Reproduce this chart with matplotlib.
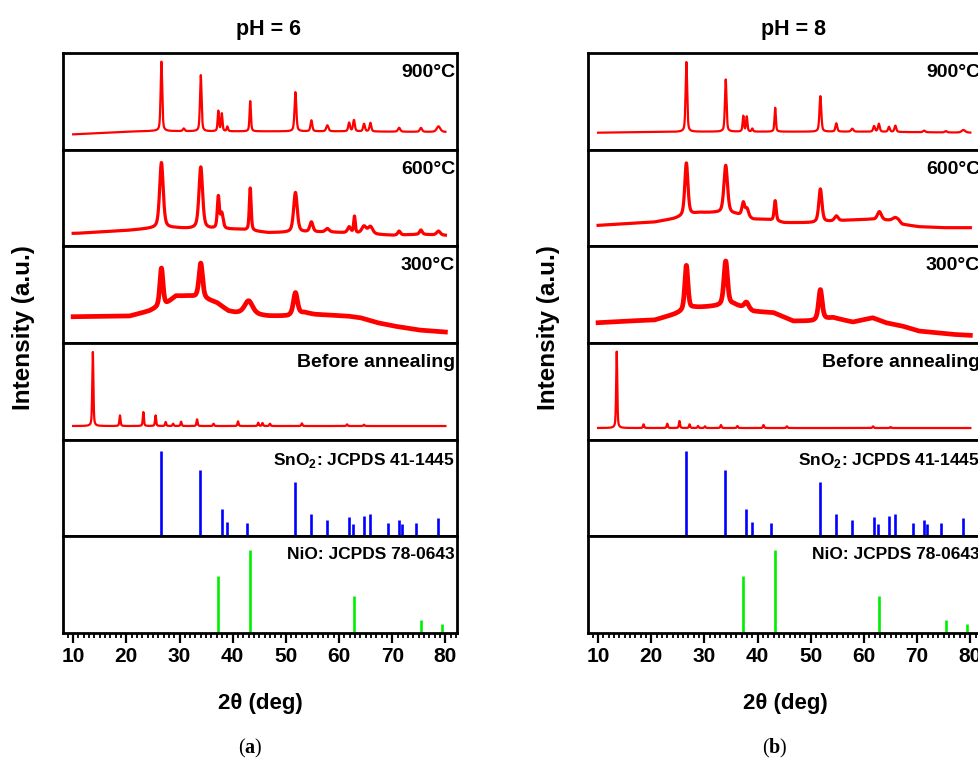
import numpy as np
import matplotlib
matplotlib.use("Agg")
import matplotlib.pyplot as plt
from matplotlib.ticker import MultipleLocator

plt.rcParams['font.family'] = ['Liberation Sans', 'DejaVu Sans']
plt.rcParams['font.weight'] = 'bold'
plt.rcParams['mathtext.fontset'] = 'custom'
plt.rcParams['mathtext.rm'] = 'Liberation Sans:bold'
plt.rcParams['mathtext.bf'] = 'Liberation Serif:bold'

# ---- data (intensities in a.u.) ----
ph_titles = ['pH = 6', 'pH = 8']
sub_labels = ['a', 'b']
trace_labels = ['900°C', '600°C', '300°C', 'Before annealing']

# reference sticks
sno2_pos = [26.6, 33.9, 37.9, 39.0, 42.6, 51.8, 54.8, 57.8, 61.9, 62.6,
            64.7, 65.9, 69.2, 71.3, 71.8, 74.5, 78.7]
sno2_int = [100, 78, 32, 17, 15, 63, 26, 19, 23, 14, 24, 26, 15, 19, 14, 15, 21]
nio_pos = [37.3, 43.3, 62.9, 75.4, 79.4]
nio_int = [68, 100, 44, 15, 11]

# pH = 6 traces: baseline points, then peaks (position, height, fwhm)
p6_900_bx = [10, 15, 20, 25, 35, 50, 60, 70, 80]
p6_900_by = [46, 50, 54, 56, 55, 55, 55, 54, 53]
p6_900_pos = [26.6, 30.8, 34.0, 37.3, 37.95, 39.0, 43.3, 51.8, 54.8, 57.8,
              61.9, 62.8, 64.7, 65.9, 71.3, 75.4, 78.7]
p6_900_h = [209, 8, 169, 61, 53, 14, 91, 118, 33, 18, 26, 34, 23, 26, 12, 12, 17]
p6_900_w = [0.35, 0.4, 0.35, 0.3, 0.3, 0.3, 0.3, 0.4, 0.4, 0.5,
            0.4, 0.4, 0.4, 0.4, 0.5, 0.5, 0.8]

p6_600_bx = [10.6, 20.4, 24.3, 29.3, 31.7, 41, 46.7, 57.9, 70.3, 75.2, 80]
p6_600_by = [39, 48, 53, 55, 53, 51, 41, 43, 33, 36, 33]
p6_600_pos = [26.6, 34.0, 37.3, 37.95, 43.3, 51.8, 54.8, 57.8, 61.9, 62.9,
              64.7, 65.9, 71.3, 75.4, 78.7]
p6_600_h = [198, 186, 95, 45, 128, 120, 30, 10, 18, 50, 22, 22, 12, 13, 12]
p6_600_w = [0.8, 0.8, 0.45, 0.6, 0.4, 0.8, 0.7, 0.8, 0.7, 0.35,
            1.0, 1.0, 0.6, 0.6, 0.8]

p6_300_bx = [10, 20.6, 24.3, 27.5, 29.3, 31.8, 35.0, 37.0, 39.2, 40.5, 46.7,
             50.4, 53.5, 55.4, 61.6, 64.0, 67.2, 70.3, 75.0, 80]
p6_300_by = [79, 81, 96, 116, 141, 141, 131, 121, 96, 91, 81,
             81, 91, 86, 81, 76, 61, 51, 39, 33]
p6_300_pos = [26.6, 34.0, 43.0, 51.8]
p6_300_h = [115, 106, 40, 66]
p6_300_w = [0.7, 0.8, 1.8, 0.9]

p6_raw_bx = [10, 80]
p6_raw_by = [41, 41]
p6_raw_pos = [13.7, 18.8, 23.2, 25.5, 27.4, 28.8, 30.3, 33.3, 36.4, 41.0,
              44.8, 45.6, 47.0, 53.0, 61.5, 64.7]
p6_raw_h = [223, 32, 42, 32, 12, 7, 13, 20, 7, 14, 10, 9, 7, 8, 5, 4]
p6_raw_w = [0.25] * 16

# pH = 8 traces
p8_900_bx = [10, 20, 30, 60, 80]
p8_900_by = [51, 53, 54, 54, 51]
p8_900_pos = [26.6, 34.0, 37.3, 37.95, 39.0, 43.3, 51.8, 54.8, 57.8, 61.9,
              62.8, 64.7, 65.9, 71.3, 75.4, 78.7]
p8_900_h = [210, 157, 47, 45, 9, 72, 107, 25, 9, 17, 24, 15, 19, 5, 4, 8]
p8_900_w = [0.35, 0.35, 0.3, 0.3, 0.3, 0.3, 0.4, 0.4, 0.5, 0.4,
            0.4, 0.4, 0.4, 0.5, 0.5, 0.8]

p8_600_bx = [10, 20.6, 24.3, 29.0, 32.0, 36.0, 39.2, 41.7, 45.0, 50.4, 57.5,
             61.0, 66.5, 67.2, 70.3, 75.0, 80]
p8_600_by = [63, 73, 83, 101, 101, 96, 81, 81, 71, 71, 79,
             81, 76, 66, 59, 56, 56]
p8_600_pos = [26.6, 34.0, 37.3, 38.0, 43.3, 51.8, 54.8, 62.9, 65.9]
p8_600_h = [159, 145, 40, 25, 61, 100, 15, 25, 10]
p8_600_w = [0.7, 0.8, 0.6, 0.7, 0.45, 0.7, 0.8, 0.9, 1.2]

p8_300_bx = [10, 15.6, 20.6, 24.3, 28.0, 32.4, 35.5, 39.2, 43.0, 46.7, 50.4,
             54.2, 57.9, 61.6, 64.1, 67.2, 70.3, 76.6, 80]
p8_300_by = [61, 66, 69, 86, 106, 111, 116, 95, 91, 66, 66,
             76, 63, 76, 61, 51, 36, 26, 23]
p8_300_pos = [26.6, 34.0, 37.9, 51.8]
p8_300_h = [135, 133, 20, 91]
p8_300_w = [0.7, 0.8, 1.0, 0.8]

p8_raw_bx = [10, 80]
p8_raw_by = [35, 35]
p8_raw_pos = [13.5, 18.55, 23.0, 25.3, 27.2, 28.8, 30.1, 33.1, 36.2, 41.1,
              45.5, 61.7, 65.0]
p8_raw_h = [230, 11, 13, 21, 11, 6, 5, 9, 6, 9, 5, 5, 3]
p8_raw_w = [0.25] * 13


def profile(x, bx, by, pos, h, w):
    # baseline through the read points plus pseudo-Voigt peaks
    y = np.interp(x, bx, by)
    for p, a, f in zip(pos, h, w):
        d = (x - p) / f
        y = y + a * (0.5 / (1 + 4 * d ** 2) + 0.5 * np.exp(-4 * np.log(2) * d ** 2))
    return y


two_theta = np.arange(10, 80.01, 0.02)

columns = [
    [(p6_900_bx, p6_900_by, p6_900_pos, p6_900_h, p6_900_w),
     (p6_600_bx, p6_600_by, p6_600_pos, p6_600_h, p6_600_w),
     (p6_300_bx, p6_300_by, p6_300_pos, p6_300_h, p6_300_w),
     (p6_raw_bx, p6_raw_by, p6_raw_pos, p6_raw_h, p6_raw_w)],
    [(p8_900_bx, p8_900_by, p8_900_pos, p8_900_h, p8_900_w),
     (p8_600_bx, p8_600_by, p8_600_pos, p8_600_h, p8_600_w),
     (p8_300_bx, p8_300_by, p8_300_pos, p8_300_h, p8_300_w),
     (p8_raw_bx, p8_raw_by, p8_raw_pos, p8_raw_h, p8_raw_w)],
]
# noisier patterns drawn with a heavier line
trace_lw = [1.6, 2.3, 3.4, 1.6]

fig = plt.figure(figsize=(9.79, 7.61), dpi=100)

lefts = [0.0644, 0.6006]
width = 0.4025
top = 0.9304
ph = 0.12703

for c in range(2):
    axes = []
    for i in range(6):
        ax = fig.add_axes([lefts[c], top - (i + 1) * ph, width, ph])
        ax.set_xlim(8.1, 82.2)
        ax.set_yticks([])
        for s in ax.spines.values():
            s.set_linewidth(2.0)
        axes.append(ax)

    for i in range(4):
        ax = axes[i]
        ax.plot(two_theta, profile(two_theta, *columns[c][i]), color='#ff0000',
                lw=trace_lw[i], solid_joinstyle='round')
        ax.set_ylim(0, 291)
        ax.text(0.995, 0.885, trace_labels[i], transform=ax.transAxes,
                ha='right', va='top', fontsize=14, fontweight='bold')

    ax = axes[4]
    ax.vlines(sno2_pos, 0, sno2_int, color='#0000ff', lw=1.9)
    ax.set_ylim(0, 113)
    ax.text(0.995, 0.885, 'SnO$_2$: JCPDS 41-1445', transform=ax.transAxes,
            ha='right', va='top', fontsize=12.5, fontweight='bold')

    ax = axes[5]
    ax.vlines(nio_pos, 0, nio_int, color='#00ee00', lw=1.9)
    ax.set_ylim(0, 116)
    ax.text(0.995, 0.885, 'NiO: JCPDS 78-0643', transform=ax.transAxes,
            ha='right', va='top', fontsize=12.5, fontweight='bold')

    for ax in axes[:5]:
        ax.set_xticks([])
        ax.tick_params(axis='x', which='both', bottom=False, labelbottom=False)
    bax = axes[5]
    bax.xaxis.set_major_locator(MultipleLocator(10))
    bax.xaxis.set_minor_locator(MultipleLocator(1))
    bax.set_xlim(8.1, 82.2)
    bax.tick_params(axis='x', which='major', direction='out', length=7,
                    width=1.6, labelsize=15, pad=3)
    bax.tick_params(axis='x', which='minor', direction='out', length=3.5,
                    width=1.3)
    for lab in bax.get_xticklabels():
        lab.set_fontweight('bold')

    cx = lefts[c] + width / 2
    fig.text(cx + 0.009, 0.9606, ph_titles[c], ha='center', va='center',
             fontsize=15.5, fontweight='bold')
    fig.text(cx, 0.0762, '2θ (deg)', ha='center', va='center',
             fontsize=16, fontweight='bold')
    fig.text(cx - 0.01, 0.0171, '($\\mathbf{' + sub_labels[c] + '}$)',
             ha='center', va='center', fontsize=14.5, fontweight='normal',
             family='Liberation Serif')
    fig.text(lefts[c] - 0.04, 0.569, 'Intensity (a.u.)', rotation=90,
             ha='center', va='center', fontsize=17.5, fontweight='bold')

fig.savefig('out.png', dpi=100)
